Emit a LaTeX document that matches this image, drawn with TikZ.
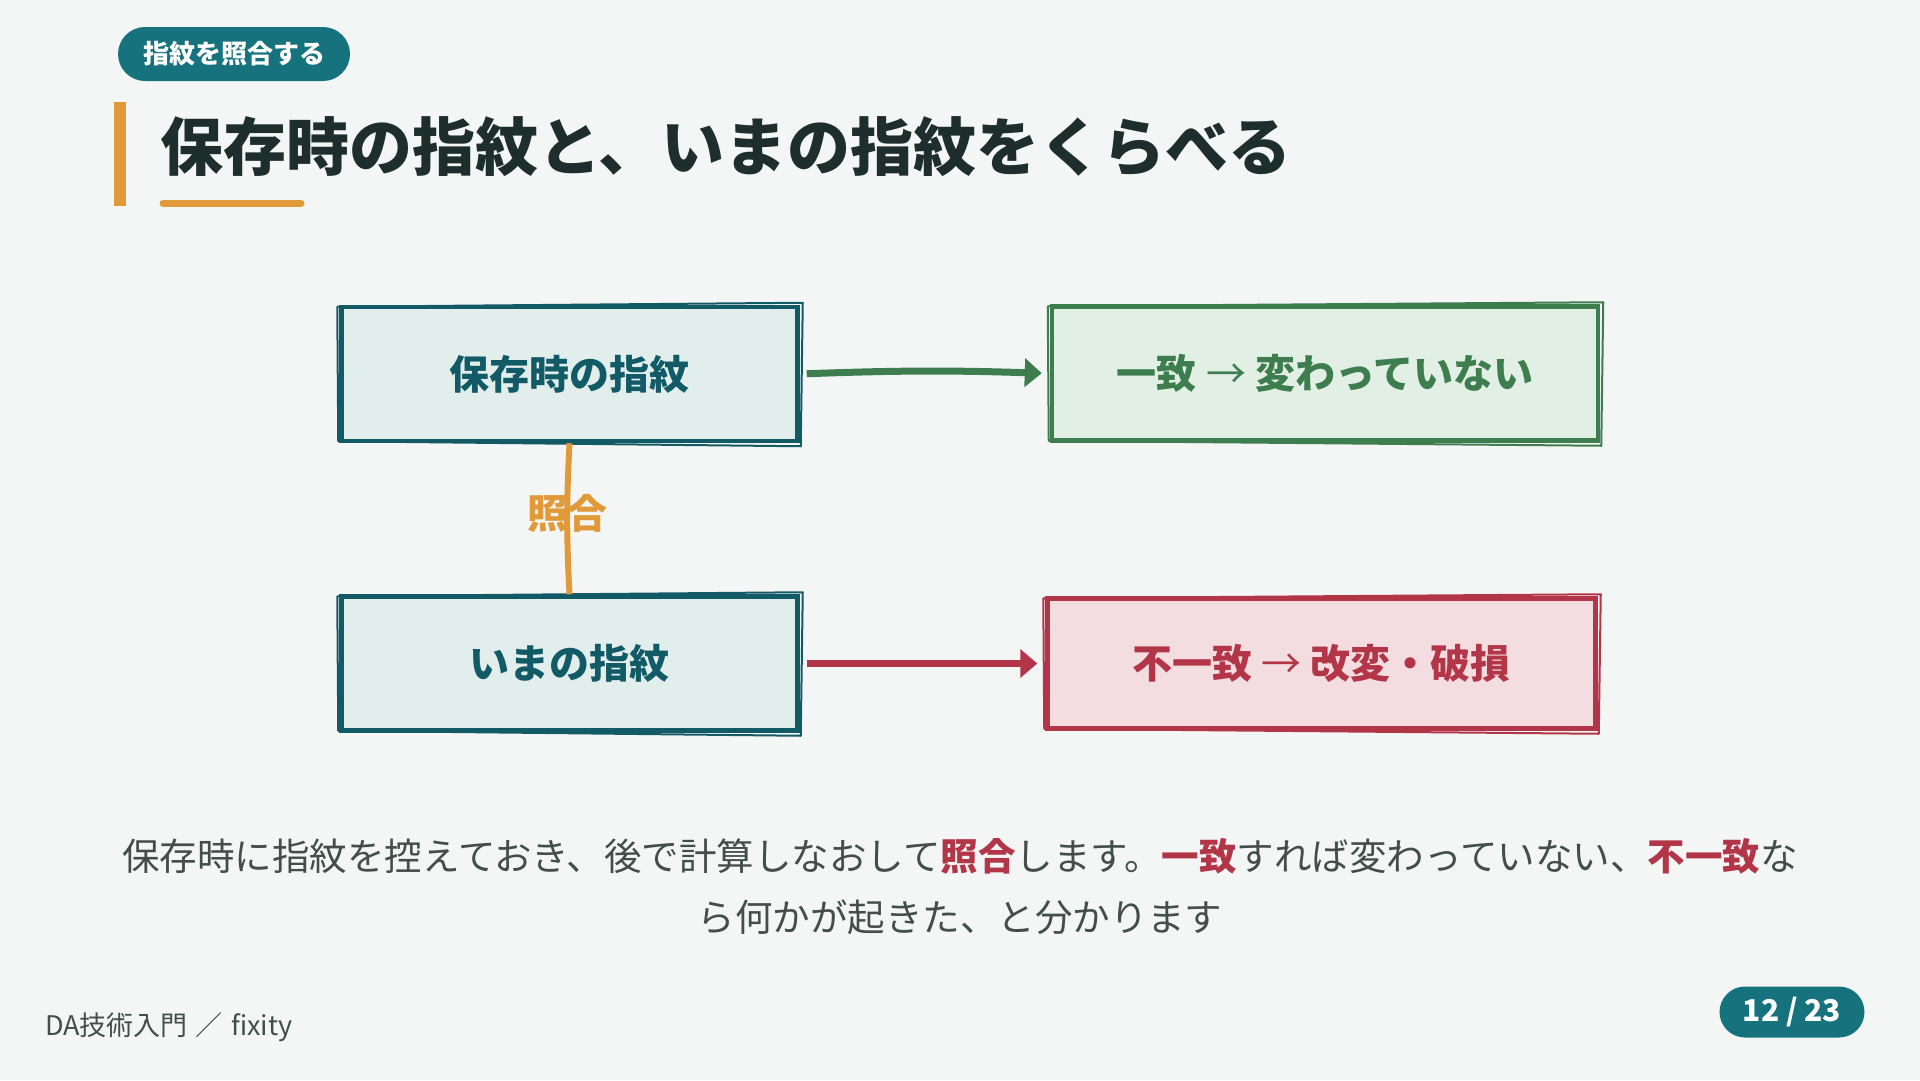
\documentclass[tikz,border=0pt]{standalone}
\usepackage{fontspec}
\setmainfont{Noto Sans CJK JP}
\usetikzlibrary{arrows.meta,positioning}

\definecolor{bgcol}{HTML}{F4F6F5}
\definecolor{inkcol}{HTML}{1E2E2C}
\definecolor{bodycol}{HTML}{434E4B}
\definecolor{pillcol}{HTML}{16737E}
\definecolor{tealcol}{HTML}{135A67}
\definecolor{tealfill}{HTML}{E1EEEC}
\definecolor{greencol}{HTML}{3E7D4E}
\definecolor{greenfill}{HTML}{E2EFE4}
\definecolor{redcol}{HTML}{B23548}
\definecolor{redfill}{HTML}{F3DDE1}
\definecolor{orangecol}{HTML}{E09A3A}

\begin{document}
\begin{tikzpicture}[
    x=1pt, y=-1pt,
    every node/.style={text=inkcol, inner sep=0pt},
    card/.style 2 args={rectangle, draw=#1, fill=#2, text=#1, line width=4.5pt,
        minimum height=134pt, font=\fontsize{40}{48}\selectfont\bfseries},
    pill/.style={rectangle, fill=pillcol, text=white, font=\bfseries},
    link/.style={line width=7pt, -{Triangle[length=17pt,width=28pt]},
        shorten <=7pt, shorten >=8pt}
]

    % ==========================
    % PAGE: background and heading
    % ==========================
    \fill[bgcol] (0,0) rectangle (1920,1080);
    \useasboundingbox (0,0) rectangle (1920,1080);

    \node[pill, minimum width=232pt, minimum height=54pt, rounded corners=27pt,
        font=\fontsize{26}{30}\selectfont\bfseries] (tag) at (234,54) {指紋を照合する};

    \fill[orangecol] (114,102) rectangle (126,206);
    \node[anchor=west, font=\fontsize{63}{70}\selectfont\bfseries] (title) at (160,147)
        {保存時の指紋と、いまの指紋をくらべる};
    \draw[orangecol, line width=7pt, line cap=round] (163,203) -- (301,203);

    % ==========================
    % DIAGRAM: four cards
    % ==========================
    \node[card={tealcol}{tealfill}, minimum width=456pt] (saved) at (569.5,374) {保存時の指紋};
    \node[card={tealcol}{tealfill}, minimum width=456pt] (now) at (569.5,663.5) {いまの指紋};
    \node[card={greencol}{greenfill}, minimum width=546pt] (same) at (1325,373.5)
        {一致 {\mdseries →} 変わっていない};
    \node[card={redcol}{redfill}, minimum width=548pt, minimum height=130pt] (diff) at (1321.5,663.5)
        {不一致 {\mdseries →} 改変・破損};

    % second, rough stroke round each card
    \foreach \n/\c in {saved/tealcol, now/tealcol, same/greencol, diff/redcol}
    {
        \draw[\c, line width=2pt, line join=round]
            ([shift={(-2,2)}]\n.north west) -- ([shift={(3,-2)}]\n.north east)
            -- ([shift={(1,3)}]\n.south east) -- ([shift={(-1,-2)}]\n.south west) -- cycle;
    }

    % connectors
    \draw[link, greencol] (saved.east) to[bend left=2] (same.west);
    \draw[link, redcol] (now.east) -- (diff.west);
    \draw[orangecol, line width=6pt] (saved.south) to[bend right=3]
        node[pos=0.46, text=orangecol, font=\fontsize{40}{48}\selectfont\bfseries] (check) {照合}
        (now.north);

    % ==========================
    % TEXT: explanation and footer
    % ==========================
    \node[align=center, text=bodycol, font=\fontsize{37.5}{61}\selectfont] (note) at (960,887)
        {保存時に指紋を控えておき、後で計算しなおして\textcolor{redcol}{\bfseries 照合}します。\textcolor{redcol}{\bfseries 一致}すれば変わっていない、\textcolor{redcol}{\bfseries 不一致}な\\
         ら何かが起きた、と分かります};

    \node[anchor=west, text=bodycol, font=\fontsize{27}{30}\selectfont] (footer) at (45,1027)
        {DA技術入門\hspace{0.3em}／\hspace{0.3em}fixity};
    \node[pill, minimum width=145pt, minimum height=51pt, rounded corners=25.5pt,
        font=\fontsize{30}{34}\selectfont\bfseries] (page) at (1792,1012) {12 / 23};

\end{tikzpicture}
\end{document}
